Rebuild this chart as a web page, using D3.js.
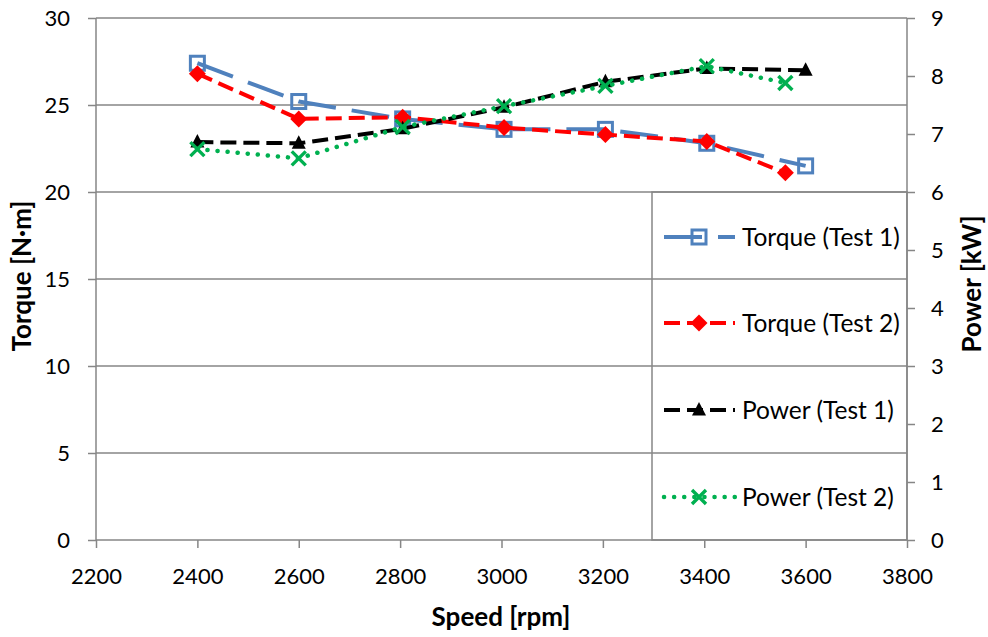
<!DOCTYPE html>
<html>
<head>
<meta charset="utf-8">
<script src="https://cdn.jsdelivr.net/npm/d3@7"></script>
<style>
  html, body { margin: 0; padding: 0; background: #fff; }
  svg { display: block; font-family: Lato, "Open Sans", sans-serif; }
</style>
</head>
<body>
<svg id="chart" width="988" height="637"></svg>
<script>
// Engine test results: torque (left axis) and power (right axis) vs. speed
const speedTest1 = [2400, 2600, 2805, 3005, 3205, 3405, 3600];
const speedTest2 = [2400, 2600, 2805, 3005, 3205, 3405, 3560];
const torqueTest1 = [27.4, 25.2, 24.2, 23.6, 23.6, 22.8, 21.5];
const torqueTest2 = [26.8, 24.2, 24.3, 23.7, 23.3, 22.9, 21.1];
const powerTest1 = [6.86, 6.84, 7.09, 7.46, 7.9, 8.13, 8.1];
const powerTest2 = [6.74, 6.58, 7.12, 7.48, 7.83, 8.17, 7.88];

const speedTicks = [2200, 2400, 2600, 2800, 3000, 3200, 3400, 3600, 3800];
const torqueTicks = [0, 5, 10, 15, 20, 25, 30];
const powerTicks = [0, 1, 2, 3, 4, 5, 6, 7, 8, 9];

const seriesNames = ["Torque (Test 1)", "Torque (Test 2)", "Power (Test 1)", "Power (Test 2)"];

const svg = d3.select("#chart");
const plot = { left: 96, right: 907, top: 18, bottom: 540 };
const axisColor = "#868686";

const x = d3.scaleLinear().domain([2200, 3800]).range([plot.left, plot.right]);
const yT = d3.scaleLinear().domain([0, 30]).range([plot.bottom, plot.top]);
const yP = d3.scaleLinear().domain([0, 9]).range([plot.bottom, plot.top]);

// horizontal gridlines
svg.append("g").selectAll("line").data(torqueTicks.filter(d => d > 0)).join("line")
  .attr("x1", plot.left).attr("x2", plot.right)
  .attr("y1", d => yT(d)).attr("y2", d => yT(d))
  .attr("stroke", axisColor).attr("stroke-width", 1.5);

// axes
const gx = svg.append("g").attr("transform", `translate(0,${plot.bottom})`)
  .call(d3.axisBottom(x).tickValues(speedTicks).tickSize(8).tickPadding(20).tickFormat(d3.format("d")));
const gl = svg.append("g").attr("transform", `translate(${plot.left},0)`)
  .call(d3.axisLeft(yT).tickValues(torqueTicks).tickSize(8).tickPadding(18));
const gr = svg.append("g").attr("transform", `translate(${plot.right},0)`)
  .call(d3.axisRight(yP).tickValues(powerTicks).tickSize(8).tickPadding(16));
[gx, gl, gr].forEach(g => {
  g.select(".domain").attr("stroke", axisColor).attr("stroke-width", 1.5);
  g.selectAll(".tick line").attr("stroke", axisColor).attr("stroke-width", 1.5);
  g.selectAll(".tick text").attr("fill", "#000").attr("font-size", 22)
    .attr("font-family", "Lato, sans-serif");
});
gx.select(".domain").attr("d", `M${plot.left},0H${plot.right}`);
gl.select(".domain").attr("d", `M0,${plot.bottom}V${plot.top}`);
gr.select(".domain").attr("d", `M0,${plot.bottom}V${plot.top}`);

// axis titles
svg.append("text").attr("x", 501).attr("y", 626)
  .attr("text-anchor", "middle").attr("font-size", 26).attr("font-weight", "bold")
  .text("Speed [rpm]");
svg.append("text").attr("transform", `translate(31,276) rotate(-90)`)
  .attr("text-anchor", "middle").attr("font-size", 26).attr("font-weight", "bold")
  .text("Torque [N·m]");
svg.append("text").attr("transform", `translate(981,284) rotate(-90)`)
  .attr("text-anchor", "middle").attr("font-size", 26).attr("font-weight", "bold")
  .text("Power [kW]");

// series styles
const styles = [
  { color: "#4F81BD", dash: "38,16", cap: "butt", width: 4, marker: "square" },
  { color: "#FF0000", dash: "16,7", cap: "butt", width: 4, marker: "diamond" },
  { color: "#000000", dash: "16,7", cap: "butt", width: 4, marker: "triangle" },
  { color: "#00B050", dash: "0.1,10", cap: "round", width: 4.5, marker: "cross" }
];
const series = [
  { xs: speedTest1, ys: torqueTest1, y: yT },
  { xs: speedTest2, ys: torqueTest2, y: yT },
  { xs: speedTest1, ys: powerTest1, y: yP },
  { xs: speedTest2, ys: powerTest2, y: yP }
];

function drawMarker(g, kind, color, cx, cy) {
  if (kind === "square") {
    g.append("rect").attr("x", cx - 7).attr("y", cy - 7).attr("width", 14).attr("height", 14)
      .attr("fill", "none").attr("stroke", color).attr("stroke-width", 3);
  } else if (kind === "diamond") {
    g.append("path").attr("d", `M${cx},${cy - 8.5}L${cx + 8.5},${cy}L${cx},${cy + 8.5}L${cx - 8.5},${cy}Z`)
      .attr("fill", color);
  } else if (kind === "triangle") {
    g.append("path").attr("d", `M${cx},${cy - 8}L${cx + 7},${cy + 5.5}L${cx - 7},${cy + 5.5}Z`)
      .attr("fill", color);
  } else {
    g.append("path").attr("d", `M${cx - 7},${cy - 7}L${cx + 7},${cy + 7}M${cx + 7},${cy - 7}L${cx - 7},${cy + 7}`)
      .attr("stroke", color).attr("stroke-width", 3.4).attr("fill", "none");
  }
}

const line = d3.line();
series.forEach((s, i) => {
  const st = styles[i];
  const pts = s.xs.map((v, j) => [x(v), s.y(s.ys[j])]);
  const g = svg.append("g");
  g.append("path").attr("d", line(pts)).attr("fill", "none")
    .attr("stroke", st.color).attr("stroke-width", st.width)
    .attr("stroke-dasharray", st.dash).attr("stroke-linecap", st.cap)
    .attr("stroke-linejoin", "round");
  pts.forEach(p => drawMarker(g, st.marker, st.color, p[0], p[1]));
});

// legend
const legend = { left: 652, right: 907, top: 192, bottom: 540 };
svg.append("rect").attr("x", legend.left).attr("y", legend.top)
  .attr("width", legend.right - legend.left).attr("height", legend.bottom - legend.top)
  .attr("fill", "none").attr("stroke", axisColor).attr("stroke-width", 1.5);
const rowY = [237, 323, 410, 497];
seriesNames.forEach((name, i) => {
  const st = styles[i];
  const g = svg.append("g");
  g.append("line").attr("x1", 664).attr("x2", 735).attr("y1", rowY[i]).attr("y2", rowY[i])
    .attr("stroke", st.color).attr("stroke-width", st.width)
    .attr("stroke-dasharray", st.dash).attr("stroke-linecap", st.cap);
  drawMarker(g, st.marker, st.color, 699, rowY[i]);
  g.append("text").attr("x", 742).attr("y", rowY[i]).attr("dy", "0.36em")
    .attr("font-size", 24.5).text(name);
});
</script>
</body>
</html>
